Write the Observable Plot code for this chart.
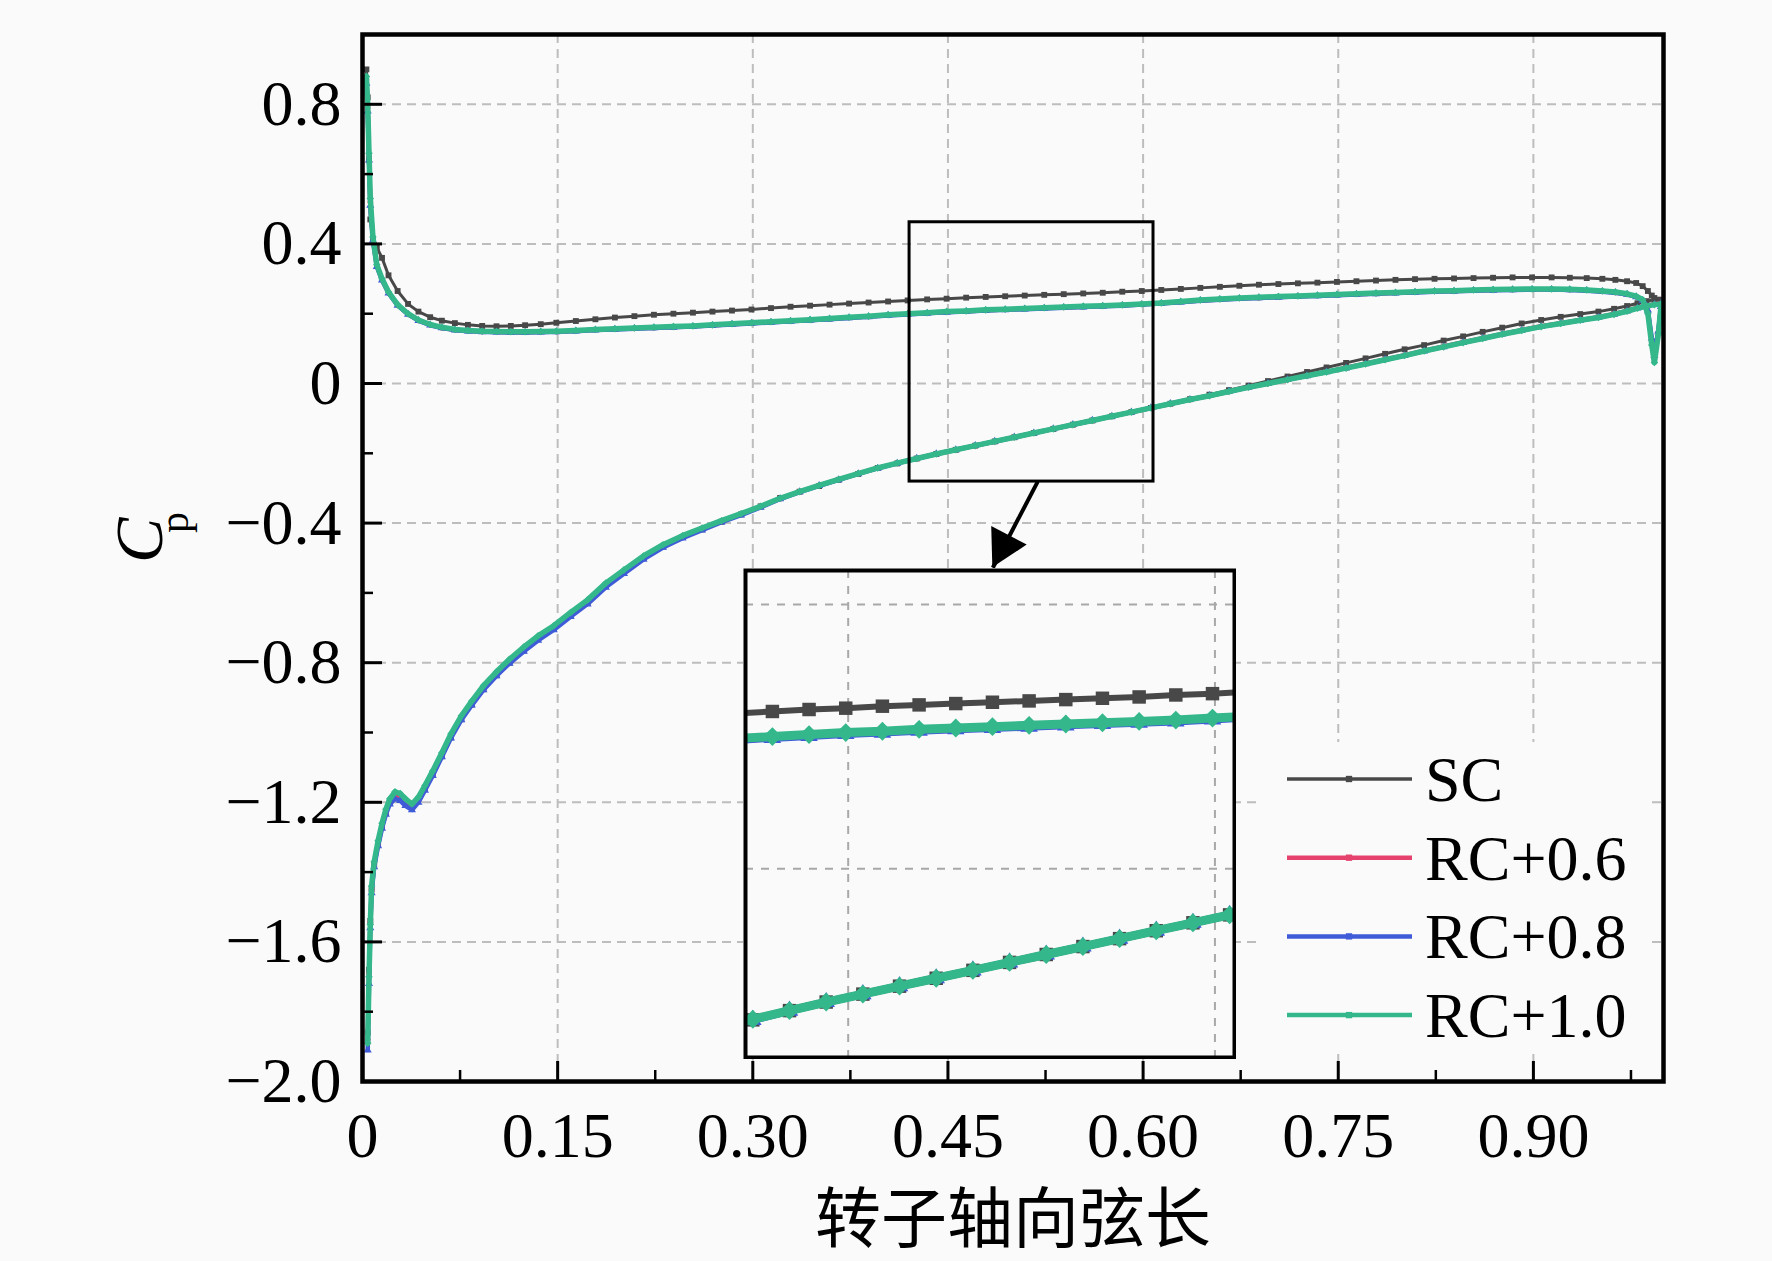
<!DOCTYPE html>
<html>
<head>
<meta charset="utf-8">
<script src="https://cdn.jsdelivr.net/npm/d3@7"></script>
<script src="https://cdn.jsdelivr.net/npm/@observablehq/plot@0.6"></script>
<style>
  html, body { margin: 0; padding: 0; background: #fafafa; overflow: hidden; }
  #wrap { position: relative; width: 1772px; height: 1261px; }
  #inset { position: absolute; left: 743px; top: 568px; }
</style>
</head>
<body>
<div id="wrap"><div id="inset"></div></div>
<script>
// ---------------- data ----------------
const seriesNames = ["SC", "RC+0.6", "RC+0.8", "RC+1.0"];

// pressure-side stations (upper branch, Cp > 0)
const upperX = [
  0.003, 0.004, 0.005, 0.006, 0.008,
  0.011, 0.015, 0.020, 0.027, 0.035,
  0.043, 0.052, 0.061, 0.071, 0.081,
  0.092, 0.103, 0.114, 0.125, 0.137,
  0.149, 0.164, 0.179, 0.194, 0.209,
  0.224, 0.239, 0.254, 0.269, 0.284,
  0.299, 0.314, 0.329, 0.344, 0.359,
  0.374, 0.389, 0.404, 0.419, 0.434,
  0.449, 0.464, 0.479, 0.494, 0.509,
  0.524, 0.539, 0.554, 0.569, 0.584,
  0.599, 0.614, 0.629, 0.644, 0.659,
  0.674, 0.689, 0.704, 0.719, 0.734,
  0.749, 0.764, 0.779, 0.794, 0.809,
  0.824, 0.839, 0.854, 0.869, 0.884,
  0.899, 0.914, 0.928, 0.941, 0.953,
  0.963, 0.972, 0.979, 0.984, 0.988,
  0.991, 0.993, 0.996, 0.998
];
const upperSC = [
  0.90, 0.82, 0.64, 0.47, 0.415,
  0.39, 0.36, 0.31, 0.265, 0.228,
  0.206, 0.19, 0.18, 0.173, 0.168,
  0.165, 0.164, 0.165, 0.167, 0.17,
  0.174, 0.179, 0.184, 0.189, 0.193,
  0.197, 0.2, 0.203, 0.206, 0.209,
  0.212, 0.216, 0.22, 0.223, 0.226,
  0.229, 0.232, 0.235, 0.238, 0.241,
  0.243, 0.246, 0.248, 0.25, 0.252,
  0.254, 0.256, 0.258, 0.26, 0.263,
  0.265, 0.268, 0.271, 0.274, 0.277,
  0.28, 0.283, 0.285, 0.287, 0.289,
  0.291, 0.293, 0.295, 0.297, 0.299,
  0.3, 0.301, 0.302, 0.303, 0.304,
  0.304, 0.304, 0.303, 0.302, 0.3,
  0.297, 0.293, 0.288, 0.279, 0.265,
  0.252, 0.245, 0.24, 0.238
];
const upperRC06 = [
  0.87, 0.79, 0.65, 0.52, 0.415,
  0.338, 0.298, 0.26, 0.225, 0.199,
  0.181, 0.168, 0.16, 0.154, 0.151,
  0.149, 0.148, 0.147, 0.147, 0.148,
  0.149, 0.151, 0.154, 0.156, 0.158,
  0.16, 0.162, 0.164, 0.167, 0.17,
  0.173, 0.176, 0.179, 0.182, 0.185,
  0.189, 0.192, 0.196, 0.199, 0.202,
  0.205, 0.207, 0.21, 0.212, 0.214,
  0.216, 0.218, 0.22, 0.222, 0.224,
  0.227, 0.23, 0.234, 0.238, 0.241,
  0.244, 0.246, 0.248, 0.25, 0.252,
  0.254, 0.256, 0.258, 0.26, 0.262,
  0.264, 0.265, 0.267, 0.268, 0.269,
  0.27, 0.27, 0.269, 0.267, 0.264,
  0.261, 0.256, 0.249, 0.238, 0.205,
  0.12, 0.07, 0.145, 0.22
];
const upperRC08 = [
  0.86, 0.78, 0.64, 0.51, 0.41,
  0.335, 0.296, 0.259, 0.224, 0.198,
  0.18, 0.167, 0.159, 0.153, 0.15,
  0.148, 0.147, 0.146, 0.146, 0.147,
  0.148, 0.15, 0.153, 0.155, 0.157,
  0.159, 0.161, 0.163, 0.166, 0.169,
  0.172, 0.175, 0.178, 0.181, 0.184,
  0.188, 0.191, 0.195, 0.198, 0.201,
  0.204, 0.206, 0.209, 0.211, 0.213,
  0.215, 0.217, 0.219, 0.221, 0.223,
  0.226, 0.229, 0.233, 0.237, 0.24,
  0.243, 0.245, 0.247, 0.249, 0.251,
  0.253, 0.255, 0.257, 0.259, 0.261,
  0.263, 0.264, 0.266, 0.267, 0.268,
  0.269, 0.269, 0.268, 0.266, 0.263,
  0.26, 0.255, 0.248, 0.237, 0.21,
  0.13, 0.08, 0.15, 0.22
];
const upperRC10 = [
  0.88, 0.80, 0.66, 0.53, 0.42,
  0.34, 0.30, 0.262, 0.226, 0.2,
  0.182, 0.169, 0.161, 0.155, 0.152,
  0.15, 0.149, 0.148, 0.148, 0.149,
  0.15, 0.152, 0.155, 0.157, 0.159,
  0.161, 0.163, 0.165, 0.168, 0.171,
  0.174, 0.177, 0.18, 0.183, 0.186,
  0.19, 0.193, 0.197, 0.2, 0.203,
  0.206, 0.208, 0.211, 0.213, 0.215,
  0.217, 0.219, 0.221, 0.223, 0.225,
  0.228, 0.231, 0.235, 0.239, 0.242,
  0.245, 0.247, 0.249, 0.251, 0.253,
  0.255, 0.257, 0.259, 0.261, 0.263,
  0.265, 0.266, 0.268, 0.269, 0.27,
  0.271, 0.271, 0.27, 0.268, 0.265,
  0.262, 0.257, 0.25, 0.24, 0.2,
  0.11, 0.06, 0.14, 0.22
];

// suction-side stations (lower branch)
const lowerX = [
  0.004, 0.005, 0.006, 0.007, 0.009,
  0.012, 0.015, 0.018, 0.021, 0.025,
  0.029, 0.033, 0.038, 0.043, 0.048,
  0.054, 0.061, 0.068, 0.076, 0.084,
  0.093, 0.103, 0.113, 0.124, 0.135,
  0.147, 0.160, 0.173, 0.187, 0.201,
  0.216, 0.231, 0.246, 0.261, 0.276,
  0.291, 0.306, 0.321, 0.336, 0.351,
  0.366, 0.381, 0.396, 0.411, 0.426,
  0.441, 0.456, 0.471, 0.486, 0.501,
  0.516, 0.531, 0.546, 0.561, 0.576,
  0.591, 0.606, 0.621, 0.636, 0.651,
  0.666, 0.681, 0.696, 0.711, 0.726,
  0.741, 0.756, 0.771, 0.786, 0.801,
  0.816, 0.831, 0.846, 0.861, 0.876,
  0.891, 0.906, 0.921, 0.936, 0.950,
  0.962, 0.972, 0.980, 0.987, 0.993,
  0.998
];
const lowerSC = [
  -1.86, -1.68, -1.54, -1.45, -1.38,
  -1.32, -1.27, -1.23, -1.2, -1.18,
  -1.182, -1.197, -1.212, -1.192, -1.16,
  -1.12, -1.068, -1.014, -0.962, -0.92,
  -0.876, -0.836, -0.8, -0.765, -0.732,
  -0.703, -0.665, -0.628, -0.58, -0.541,
  -0.5, -0.467, -0.44, -0.418, -0.396,
  -0.375, -0.352, -0.328, -0.31, -0.294,
  -0.276, -0.259, -0.242, -0.229, -0.215,
  -0.202, -0.19, -0.178, -0.166, -0.154,
  -0.142, -0.13, -0.118, -0.106, -0.094,
  -0.082, -0.07, -0.058, -0.045, -0.032,
  -0.019, -0.006, 0.007, 0.02, 0.033,
  0.046, 0.059, 0.072, 0.085, 0.098,
  0.11, 0.123, 0.135, 0.148, 0.16,
  0.172, 0.182, 0.191, 0.199, 0.206,
  0.214, 0.222, 0.23, 0.236, 0.24,
  0.24
];
const lowerRC06 = [
  -1.88, -1.69, -1.545, -1.45, -1.38,
  -1.32, -1.27, -1.23, -1.2, -1.185,
  -1.19, -1.205, -1.218, -1.195, -1.162,
  -1.12, -1.066, -1.012, -0.96, -0.918,
  -0.874, -0.834, -0.798, -0.763, -0.73,
  -0.7, -0.662, -0.626, -0.578, -0.539,
  -0.499, -0.466, -0.44, -0.417, -0.395,
  -0.375, -0.353, -0.33, -0.31, -0.292,
  -0.275, -0.258, -0.242, -0.228, -0.215,
  -0.202, -0.19, -0.178, -0.166, -0.154,
  -0.142, -0.13, -0.118, -0.106, -0.094,
  -0.082, -0.07, -0.058, -0.046, -0.035,
  -0.023, -0.011, 0.0, 0.011, 0.022,
  0.033, 0.045, 0.057, 0.069, 0.081,
  0.094, 0.106, 0.118, 0.13, 0.142,
  0.153, 0.164, 0.173, 0.182, 0.19,
  0.199, 0.208, 0.217, 0.223, 0.227,
  0.229
];
const lowerRC08 = [
  -1.91, -1.72, -1.56, -1.46, -1.385,
  -1.325, -1.275, -1.235, -1.205, -1.19,
  -1.195, -1.21, -1.222, -1.2, -1.166,
  -1.124, -1.07, -1.016, -0.964, -0.922,
  -0.878, -0.838, -0.802, -0.768, -0.736,
  -0.706, -0.668, -0.632, -0.584, -0.545,
  -0.504, -0.47, -0.443, -0.42, -0.397,
  -0.377, -0.355, -0.331, -0.311, -0.293,
  -0.276, -0.259, -0.243, -0.229, -0.215,
  -0.202, -0.19, -0.178, -0.166, -0.154,
  -0.142, -0.13, -0.118, -0.106, -0.094,
  -0.082, -0.07, -0.058, -0.046, -0.035,
  -0.023, -0.011, 0.0, 0.011, 0.022,
  0.033, 0.044, 0.056, 0.068, 0.08,
  0.093, 0.105, 0.117, 0.129, 0.141,
  0.152, 0.163, 0.172, 0.181, 0.189,
  0.198, 0.207, 0.216, 0.222, 0.226,
  0.228
];
const lowerRC10 = [
  -1.89, -1.7, -1.55, -1.44, -1.37,
  -1.31, -1.26, -1.22, -1.19, -1.17,
  -1.175, -1.19, -1.205, -1.185, -1.152,
  -1.11, -1.058, -1.004, -0.952, -0.91,
  -0.866, -0.826, -0.79, -0.755, -0.723,
  -0.694, -0.656, -0.62, -0.572, -0.534,
  -0.494, -0.462, -0.436, -0.414, -0.393,
  -0.373, -0.352, -0.329, -0.31, -0.292,
  -0.275, -0.258, -0.242, -0.228, -0.215,
  -0.202, -0.19, -0.178, -0.166, -0.154,
  -0.142, -0.13, -0.118, -0.106, -0.094,
  -0.082, -0.07, -0.058, -0.046, -0.035,
  -0.023, -0.011, 0.0, 0.011, 0.022,
  0.033, 0.044, 0.056, 0.068, 0.08,
  0.093, 0.105, 0.117, 0.129, 0.141,
  0.152, 0.163, 0.172, 0.181, 0.189,
  0.198, 0.207, 0.216, 0.222, 0.226,
  0.228
];

// axes
const xTicks = [0, 0.15, 0.30, 0.45, 0.60, 0.75, 0.90];
const xMinor = [0.075, 0.225, 0.375, 0.525, 0.675, 0.825, 0.975];
const xGrid = [0.15, 0.30, 0.45, 0.60, 0.75, 0.90];
const yTicks = [-2.0, -1.6, -1.2, -0.8, -0.4, 0, 0.4, 0.8];
const yMinor = [-1.8, -1.4, -1.0, -0.6, -0.2, 0.2, 0.6];
const yGrid = [-1.6, -1.2, -0.8, -0.4, 0, 0.4, 0.8];
const xDomain = [0, 1];
const yDomain = [-2, 1];
const xTitle = "转子轴向弦长";

// zoom window (main-axis data units) and inset domains
const zoomBoxX = [0.4205, 0.608];
const zoomBoxY = [-0.281, 0.462];
const insetXDomain = [0.408, 0.608];
const insetYDomain = [-0.286, 0.4515];
const insetXGrid = [0.45, 0.60];
const insetYGrid = [0, 0.4];
const arrowFrom = [0.519, -0.281];
const arrowTo = [0.4845, -0.528];

// ---------------- build table ----------------
const upperSets = [upperSC, upperRC06, upperRC08, upperRC10];
const lowerSets = [lowerSC, lowerRC06, lowerRC08, lowerRC10];
const rows = [];
seriesNames.forEach((name, k) => {
  upperX.forEach((x, i) => rows.push({series: name, surface: "PS", x, cp: upperSets[k][i]}));
  lowerX.forEach((x, i) => rows.push({series: name, surface: "SS", x, cp: lowerSets[k][i]}));
});

const styles = {
  "SC":     {color: "#484848", w: 3.0, sym: "square",   r: 3.3, wi: 6,   ri: 7.6},
  "RC+0.6": {color: "#e5436e", w: 4.5, sym: "circle",   r: 2.8, wi: 8,   ri: 6.0},
  "RC+0.8": {color: "#3f5bd8", w: 4.5, sym: "triangle", r: 3.0, wi: 8,   ri: 6.5},
  "RC+1.0": {color: "#34b78b", w: 5.5, sym: "diamond2", r: 3.4, wi: 9,   ri: 8.5}
};

function seriesMarks(inset) {
  const out = [];
  for (const name of seriesNames) {
    const s = styles[name];
    const d = rows.filter(r => r.series === name);
    out.push(Plot.line(d, {x: "x", y: "cp", z: "surface", stroke: s.color,
      strokeWidth: inset ? s.wi : s.w, strokeLinejoin: "round", clip: true}));
    out.push(Plot.dot(d, {x: "x", y: "cp", symbol: s.sym, r: inset ? s.ri : s.r,
      fill: s.color, stroke: "none", clip: true}));
  }
  return out;
}

const FONT = "'Liberation Serif', 'Times New Roman', serif";
const W = 1772, H = 1261, ML = 362, MR = 109, MT = 34, MB = 180;
const plotW = W - ML - MR, plotH = H - MT - MB;

const fmtX = d => d === 0 ? "0" : d.toFixed(2);
const fmtY = d => Math.abs(d) < 1e-9 ? "0" : (d < 0 ? "\u2212" : "") + Math.abs(d).toFixed(1);

const chart = Plot.plot({
  width: W, height: H,
  marginLeft: ML, marginRight: MR, marginTop: MT, marginBottom: MB,
  style: {background: "#fafafa", fontFamily: FONT, overflow: "visible"},
  x: {domain: xDomain},
  y: {domain: yDomain},
  marks: [
    Plot.ruleY(yGrid, {stroke: "#bdbdbd", strokeWidth: 2, strokeDasharray: "9,6"}),
    Plot.ruleX(xGrid, {stroke: "#bdbdbd", strokeWidth: 2, strokeDasharray: "9,6"}),
    ...seriesMarks(false),
    Plot.rect([0], {x1: zoomBoxX[0], x2: zoomBoxX[1], y1: zoomBoxY[0], y2: zoomBoxY[1],
      fill: "none", stroke: "black", strokeWidth: 3}),
    Plot.link([0], {x1: arrowFrom[0], y1: arrowFrom[1], x2: arrowTo[0], y2: arrowTo[1],
      stroke: "black", strokeWidth: 4}),
    Plot.ruleY(yTicks, {insetRight: plotW - 20, stroke: "black", strokeWidth: 3}),
    Plot.ruleY(yMinor, {insetRight: plotW - 11, stroke: "black", strokeWidth: 2.5}),
    Plot.ruleX(xTicks, {insetTop: plotH - 20, stroke: "black", strokeWidth: 3}),
    Plot.ruleX(xMinor, {insetTop: plotH - 11, stroke: "black", strokeWidth: 2.5}),
    Plot.axisX({ticks: xTicks, tickSize: 0, tickPadding: 30, tickFormat: fmtX,
      fontSize: 64, fontFamily: FONT, label: null}),
    Plot.axisY({ticks: yTicks, tickSize: 0, tickPadding: 21, tickFormat: fmtY,
      fontSize: 64, fontFamily: FONT, label: null}),
    Plot.frame({stroke: "black", strokeWidth: 4.5}),
    Plot.text([xTitle], {text: d => d, frameAnchor: "bottom", dy: 160, fontSize: 66,
      fontFamily: "'Noto Sans CJK SC', sans-serif", fill: "black"}),
    Plot.text(["C"], {text: d => d, frameAnchor: "left", dx: -222, dy: 5, rotate: -90,
      fontSize: 68, fontStyle: "italic", fontFamily: FONT, fill: "black"}),
    Plot.text(["p"], {text: d => d, frameAnchor: "left", dx: -188, dy: -25, rotate: -90,
      fontSize: 42, fontFamily: FONT, fill: "black"})
  ]
});
document.getElementById("wrap").prepend(chart);

// filled arrowhead placed through the chart's scales
{
  const sx = chart.scale("x"), sy = chart.scale("y");
  const x0 = sx.apply(arrowFrom[0]), y0 = sy.apply(arrowFrom[1]);
  const x1 = sx.apply(arrowTo[0]), y1 = sy.apply(arrowTo[1]);
  const L = Math.hypot(x1 - x0, y1 - y0), ux = (x1 - x0) / L, uy = (y1 - y0) / L;
  const len = 36, half = 20;
  const bx = x1 - ux * len, by = y1 - uy * len;
  d3.select(chart).append("polygon")
    .attr("points", [[x1, y1], [bx - uy * half, by + ux * half], [bx + uy * half, by - ux * half]].map(p => p.join(",")).join(" "))
    .attr("fill", "black");
}

// legend (inside the plot, lower right)
{
  const g = d3.select(chart).append("g");
  g.append("rect").attr("x", 1262).attr("y", 742).attr("width", 384).attr("height", 312).attr("fill", "#fafafa");
  seriesNames.forEach((name, i) => {
    const s = styles[name];
    const y = 779 + i * 78.7;
    g.append("line").attr("x1", 1287).attr("x2", 1412).attr("y1", y).attr("y2", y)
      .attr("stroke", s.color).attr("stroke-width", name === "SC" ? 3.5 : 4.5);
    g.append("path").attr("transform", `translate(1349,${y})`)
      .attr("d", d3.symbol(d3.symbolSquare, 40)()).attr("fill", s.color);
    g.append("text").attr("x", 1425).attr("y", y + 22).attr("font-size", 64)
      .attr("text-anchor", "start")
      .attr("font-family", FONT).attr("fill", "black").text(name);
  });
}

// inset: magnified view of the boxed window
const inset = Plot.plot({
  width: 493, height: 491, margin: 2,
  style: {background: "#fafafa"},
  x: {domain: insetXDomain, axis: null},
  y: {domain: insetYDomain, axis: null},
  marks: [
    Plot.ruleY(insetYGrid, {stroke: "#a8a8a8", strokeWidth: 2, strokeDasharray: "8,8"}),
    Plot.ruleX(insetXGrid, {stroke: "#a8a8a8", strokeWidth: 2, strokeDasharray: "8,8"}),
    ...seriesMarks(true),
    Plot.frame({stroke: "black", strokeWidth: 4})
  ]
});
document.getElementById("inset").append(inset);
</script>
</body>
</html>
